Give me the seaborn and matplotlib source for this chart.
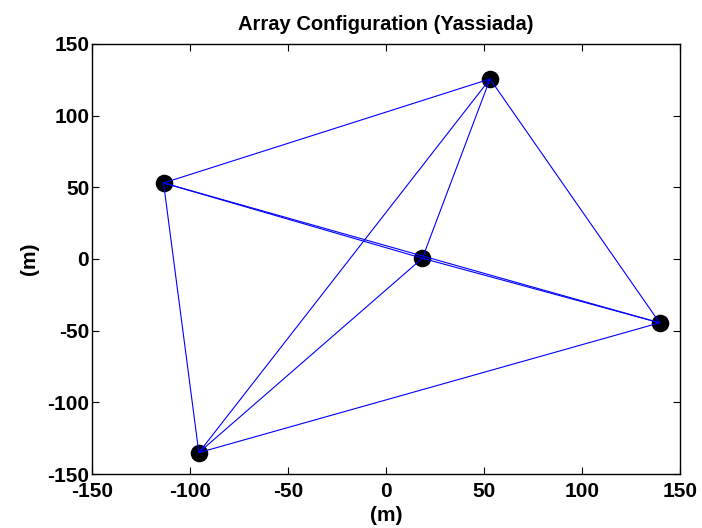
import matplotlib
matplotlib.use("Agg")
import matplotlib.pyplot as plt
import seaborn as sns
import pandas as pd
import itertools

sensor_x = [-113.5, 53.0, 18.5, 139.5, -95.5]
sensor_y = [53.0, 125.5, 0.5, -44.5, -135.0]
x_ticks = [-150, -100, -50, 0, 50, 100, 150]
y_ticks = [-150, -100, -50, 0, 50, 100, 150]

sns.set_theme(style="white")
plt.rcParams['font.family'] = ['Liberation Sans', 'DejaVu Sans']
plt.rcParams['text.color'] = 'black'
plt.rcParams['axes.labelcolor'] = 'black'

pts = pd.DataFrame({"x": sensor_x, "y": sensor_y})
rows = []
for k, (i, j) in enumerate(itertools.combinations(range(len(sensor_x)), 2)):
    rows.append({"edge": k, "order": 0, "x": sensor_x[i], "y": sensor_y[i]})
    rows.append({"edge": k, "order": 1, "x": sensor_x[j], "y": sensor_y[j]})
edges = pd.DataFrame(rows)

fig = plt.figure(figsize=(7.02, 5.28), dpi=100)
ax = fig.add_axes([0.131, 0.102, 0.838, 0.815])

sns.scatterplot(data=pts, x="x", y="y", ax=ax, color="black", s=160,
                edgecolor="black", linewidth=0, zorder=2)
sns.lineplot(data=edges, x="x", y="y", units="edge", estimator=None, sort=False,
             ax=ax, color="blue", linewidth=0.8, zorder=3)

ax.set_xlim(-150, 150)
ax.set_ylim(-150, 150)
ax.set_xticks(x_ticks)
ax.set_yticks(y_ticks)
ax.set_xticklabels([str(t) for t in x_ticks], fontsize=15, fontweight="bold")
ax.set_yticklabels([str(t) for t in y_ticks], fontsize=15, fontweight="bold")
ax.tick_params(axis="both", direction="in", length=5, width=0.8, top=True, right=True,
               bottom=True, left=True, colors="black")
ax.tick_params(axis="x", pad=6)
ax.tick_params(axis="y", pad=2)
for s in ax.spines.values():
    s.set_visible(True)
    s.set_color("black")
    s.set_linewidth(1.0)
ax.set_xlabel("(m)", fontsize=15, fontweight="bold", labelpad=3, color="black")
ax.set_ylabel("(m)", fontsize=15, fontweight="bold", labelpad=6, color="black")
ax.set_title("Array Configuration (Yassiada)", fontsize=14.5, fontweight="bold",
             pad=10, color="black")

fig.savefig("out.png", dpi=100, facecolor="white")
